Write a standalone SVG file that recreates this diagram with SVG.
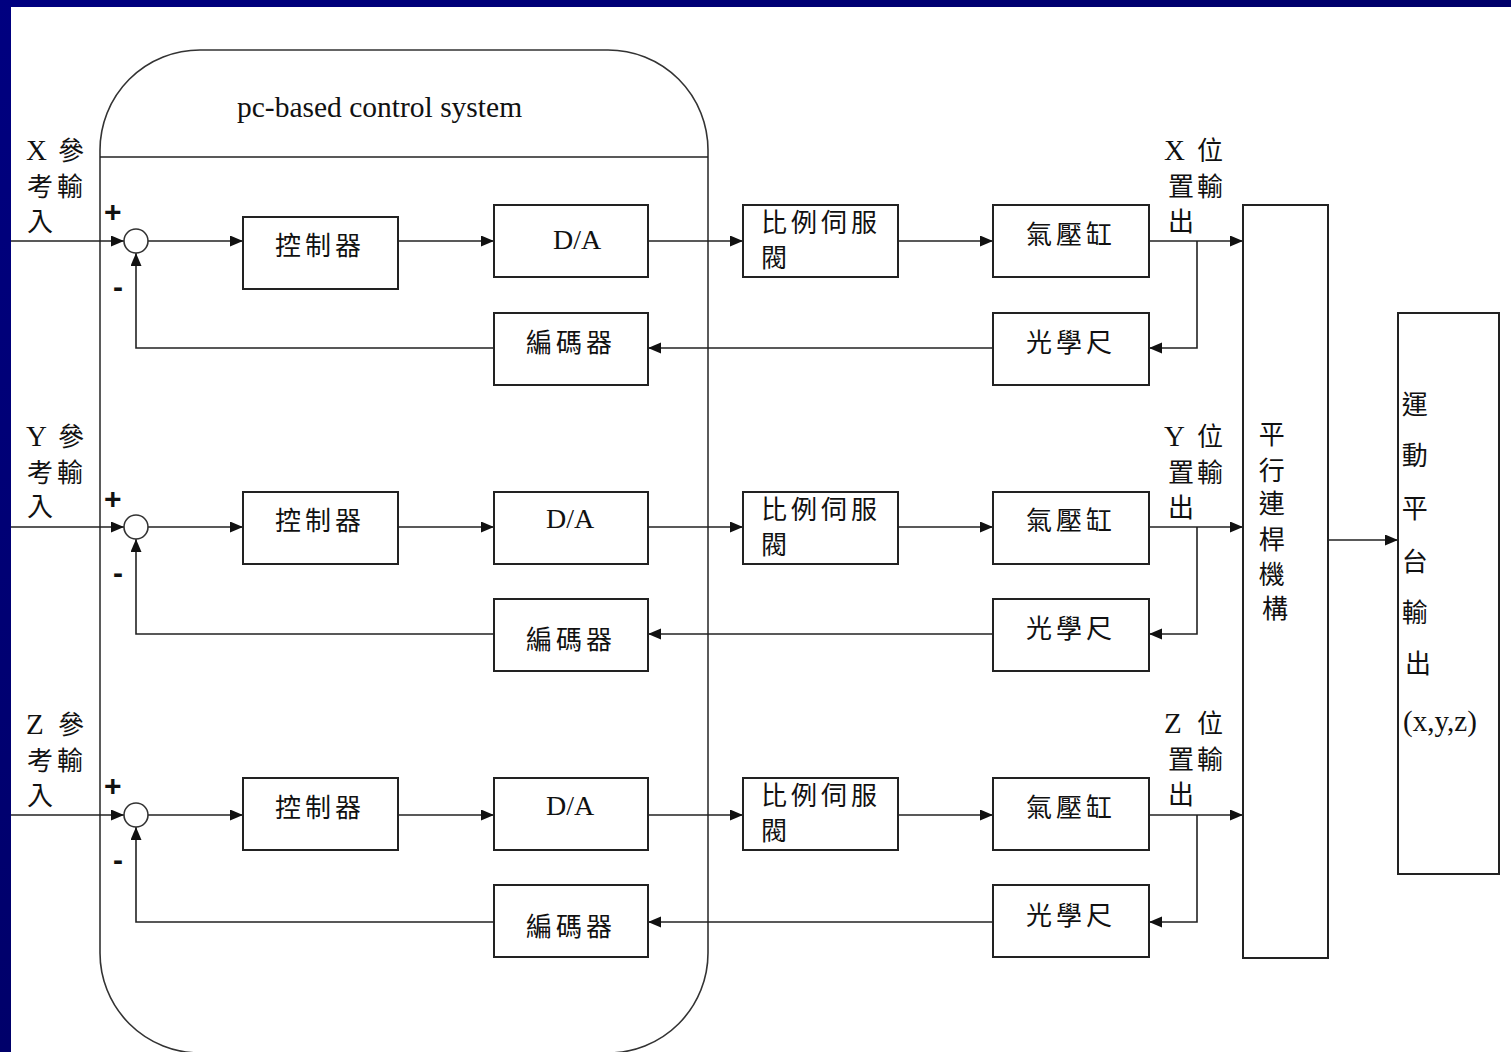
<svg xmlns="http://www.w3.org/2000/svg" width="1511" height="1052" viewBox="0 0 1511 1052">
<defs>
<linearGradient id="bg" x1="0" y1="0" x2="1" y2="1">
<stop offset="0" stop-color="#000080"/>
<stop offset="0.5" stop-color="#00006a"/>
<stop offset="1" stop-color="#000088"/>
</linearGradient>
<marker id="ah" markerUnits="userSpaceOnUse" markerWidth="14" markerHeight="12" refX="13" refY="5.5" orient="auto">
<path d="M0,0 L13,5.5 L0,11 z" fill="#111"/>
</marker>
<style>
.bx{fill:#fff;stroke:#222;stroke-width:2}
.ln{fill:none;stroke:#222;stroke-width:1.6}
.ar{fill:none;stroke:#222;stroke-width:1.6;marker-end:url(#ah)}
.t{font-family:'Liberation Serif','Noto Sans CJK TC',serif;font-size:26px;fill:#111}
.L{font-family:'Liberation Serif',serif;font-size:29px}
.c{font-family:'Noto Sans CJK TC',sans-serif;font-size:26px;fill:#111;letter-spacing:4px}
.s{font-family:'Liberation Sans',Arial,sans-serif;font-size:30px;font-weight:bold;fill:#111}
.lat{font-family:'Liberation Serif',serif;font-size:28px;fill:#111}
</style>
</defs>
<rect x="0" y="0" width="1511" height="1052" fill="url(#bg)"/>
<rect x="11" y="7" width="1500" height="1045" fill="#fff"/>

<g id="container">
<rect x="100" y="50" width="608" height="1003" rx="100" ry="100" fill="none" stroke="#333" stroke-width="1.6"/>
<line x1="100" y1="157" x2="708" y2="157" stroke="#222" stroke-width="1.6"/>
<text class="lat" x="237" y="117" style="font-size:29.5px">pc-based control system</text>
</g>

<g id="connectors">
<!-- X row -->
<line class="ar" x1="11" y1="241" x2="124" y2="241"/>
<line class="ar" x1="148" y1="241" x2="243" y2="241"/>
<line class="ar" x1="398" y1="241" x2="494" y2="241"/>
<line class="ar" x1="648" y1="241" x2="743" y2="241"/>
<line class="ar" x1="898" y1="241" x2="993" y2="241"/>
<line class="ar" x1="1149" y1="241" x2="1243" y2="241"/>
<polyline class="ar" points="1197,241 1197,348 1149,348"/>
<line class="ar" x1="993" y1="348" x2="648" y2="348"/>
<polyline class="ar" points="494,348 136,348 136,253"/>
<!-- Y row -->
<line class="ar" x1="11" y1="527" x2="124" y2="527"/>
<line class="ar" x1="148" y1="527" x2="243" y2="527"/>
<line class="ar" x1="398" y1="527" x2="494" y2="527"/>
<line class="ar" x1="648" y1="527" x2="743" y2="527"/>
<line class="ar" x1="898" y1="527" x2="993" y2="527"/>
<line class="ar" x1="1149" y1="527" x2="1243" y2="527"/>
<polyline class="ar" points="1197,527 1197,634 1149,634"/>
<line class="ar" x1="993" y1="634" x2="648" y2="634"/>
<polyline class="ar" points="494,634 136,634 136,539"/>
<!-- Z row -->
<line class="ar" x1="11" y1="815" x2="124" y2="815"/>
<line class="ar" x1="148" y1="815" x2="243" y2="815"/>
<line class="ar" x1="398" y1="815" x2="494" y2="815"/>
<line class="ar" x1="648" y1="815" x2="743" y2="815"/>
<line class="ar" x1="898" y1="815" x2="993" y2="815"/>
<line class="ar" x1="1149" y1="815" x2="1243" y2="815"/>
<polyline class="ar" points="1197,815 1197,922 1149,922"/>
<line class="ar" x1="993" y1="922" x2="648" y2="922"/>
<polyline class="ar" points="494,922 136,922 136,827"/>
<!-- to platform -->
<line class="ar" x1="1328" y1="540" x2="1398" y2="540"/>
</g>

<!-- input labels -->
<g id="label-x-in">
<text class="t" x="26" y="160"><tspan class="L">X</tspan><tspan x="58">參</tspan></text>
<text class="t" x="27" y="196">考<tspan x="57">輸</tspan></text>
<text class="t" x="27" y="231">入</text>
<text class="s" x="104" y="222">+</text>
<text class="s" x="113" y="297">-</text>
</g>
<g id="label-y-in">
<text class="t" x="26" y="446"><tspan class="L">Y</tspan><tspan x="58">參</tspan></text>
<text class="t" x="27" y="482">考<tspan x="57">輸</tspan></text>
<text class="t" x="27" y="516">入</text>
<text class="s" x="104" y="509">+</text>
<text class="s" x="113" y="583">-</text>
</g>
<g id="label-z-in">
<text class="t" x="26" y="734"><tspan class="L">Z</tspan><tspan x="58">參</tspan></text>
<text class="t" x="27" y="770">考<tspan x="57">輸</tspan></text>
<text class="t" x="27" y="805">入</text>
<text class="s" x="104" y="796">+</text>
<text class="s" x="113" y="870">-</text>
</g>

<!-- summing junctions -->
<g id="sum-x"><circle cx="136" cy="241" r="12" fill="#fff" stroke="#333" stroke-width="1.6"/></g>
<g id="sum-y"><circle cx="136" cy="527" r="12" fill="#fff" stroke="#333" stroke-width="1.6"/></g>
<g id="sum-z"><circle cx="136" cy="815" r="12" fill="#fff" stroke="#333" stroke-width="1.6"/></g>

<!-- X row nodes -->
<g id="ctrl-x"><rect class="bx" x="243" y="217" width="155" height="72"/><text class="c" x="275" y="255">控制器</text></g>
<g id="da-x"><rect class="bx" x="494" y="205" width="154" height="72"/><text class="lat" x="553" y="249">D/A</text></g>
<g id="valve-x"><rect class="bx" x="743" y="205" width="155" height="72"/><text class="c" x="761" y="232">比例伺服</text><text class="c" x="761" y="267">閥</text></g>
<g id="cyl-x"><rect class="bx" x="993" y="205" width="156" height="72"/><text class="c" x="1026" y="244">氣壓缸</text></g>
<g id="enc-x"><rect class="bx" x="494" y="313" width="154" height="72"/><text class="c" x="526" y="352">編碼器</text></g>
<g id="scale-x"><rect class="bx" x="993" y="313" width="156" height="72"/><text class="c" x="1026" y="352">光學尺</text></g>

<!-- Y row nodes -->
<g id="ctrl-y"><rect class="bx" x="243" y="492" width="155" height="72"/><text class="c" x="275" y="530">控制器</text></g>
<g id="da-y"><rect class="bx" x="494" y="492" width="154" height="72"/><text class="lat" x="546" y="528">D/A</text></g>
<g id="valve-y"><rect class="bx" x="743" y="492" width="155" height="72"/><text class="c" x="761" y="519">比例伺服</text><text class="c" x="761" y="554">閥</text></g>
<g id="cyl-y"><rect class="bx" x="993" y="492" width="156" height="72"/><text class="c" x="1026" y="530">氣壓缸</text></g>
<g id="enc-y"><rect class="bx" x="494" y="599" width="154" height="72"/><text class="c" x="526" y="649">編碼器</text></g>
<g id="scale-y"><rect class="bx" x="993" y="599" width="156" height="72"/><text class="c" x="1026" y="638">光學尺</text></g>

<!-- Z row nodes -->
<g id="ctrl-z"><rect class="bx" x="243" y="778" width="155" height="72"/><text class="c" x="275" y="817">控制器</text></g>
<g id="da-z"><rect class="bx" x="494" y="778" width="154" height="72"/><text class="lat" x="546" y="815">D/A</text></g>
<g id="valve-z"><rect class="bx" x="743" y="778" width="155" height="72"/><text class="c" x="761" y="805">比例伺服</text><text class="c" x="761" y="840">閥</text></g>
<g id="cyl-z"><rect class="bx" x="993" y="778" width="156" height="72"/><text class="c" x="1026" y="817">氣壓缸</text></g>
<g id="enc-z"><rect class="bx" x="494" y="885" width="154" height="72"/><text class="c" x="526" y="936">編碼器</text></g>
<g id="scale-z"><rect class="bx" x="993" y="885" width="156" height="72"/><text class="c" x="1026" y="925">光學尺</text></g>

<!-- output labels -->
<g id="label-x-out">
<text class="t" x="1164" y="160"><tspan class="L">X</tspan><tspan x="1197">位</tspan></text>
<text class="t" x="1168" y="196">置<tspan x="1197">輸</tspan></text>
<text class="t" x="1168" y="231">出</text>
</g>
<g id="label-y-out">
<text class="t" x="1164" y="446"><tspan class="L">Y</tspan><tspan x="1197">位</tspan></text>
<text class="t" x="1168" y="482">置<tspan x="1197">輸</tspan></text>
<text class="t" x="1168" y="517">出</text>
</g>
<g id="label-z-out">
<text class="t" x="1164" y="733"><tspan class="L">Z</tspan><tspan x="1197">位</tspan></text>
<text class="t" x="1168" y="769">置<tspan x="1197">輸</tspan></text>
<text class="t" x="1168" y="804">出</text>
</g>

<!-- parallel linkage -->
<g id="linkage">
<rect class="bx" x="1243" y="205" width="85" height="753"/>
<text class="t" text-anchor="middle">
<tspan x="1275" y="444">平</tspan>
<tspan x="1275" y="480">行</tspan>
<tspan x="1275" y="513">連</tspan>
<tspan x="1275" y="549">桿</tspan>
<tspan x="1275" y="584">機</tspan>
<tspan x="1275" y="618">構</tspan>
</text>
</g>

<!-- platform output -->
<g id="platform">
<rect class="bx" x="1398" y="313" width="101" height="561"/>
<text class="t" text-anchor="middle">
<tspan x="1418" y="414">運</tspan>
<tspan x="1418" y="465">動</tspan>
<tspan x="1418" y="518">平</tspan>
<tspan x="1418" y="571">台</tspan>
<tspan x="1418" y="622">輸</tspan>
<tspan x="1418" y="673">出</tspan>
</text>
<text class="lat" x="1403" y="731" style="font-size:29px">(x,y,z)</text>
</g>
</svg>
